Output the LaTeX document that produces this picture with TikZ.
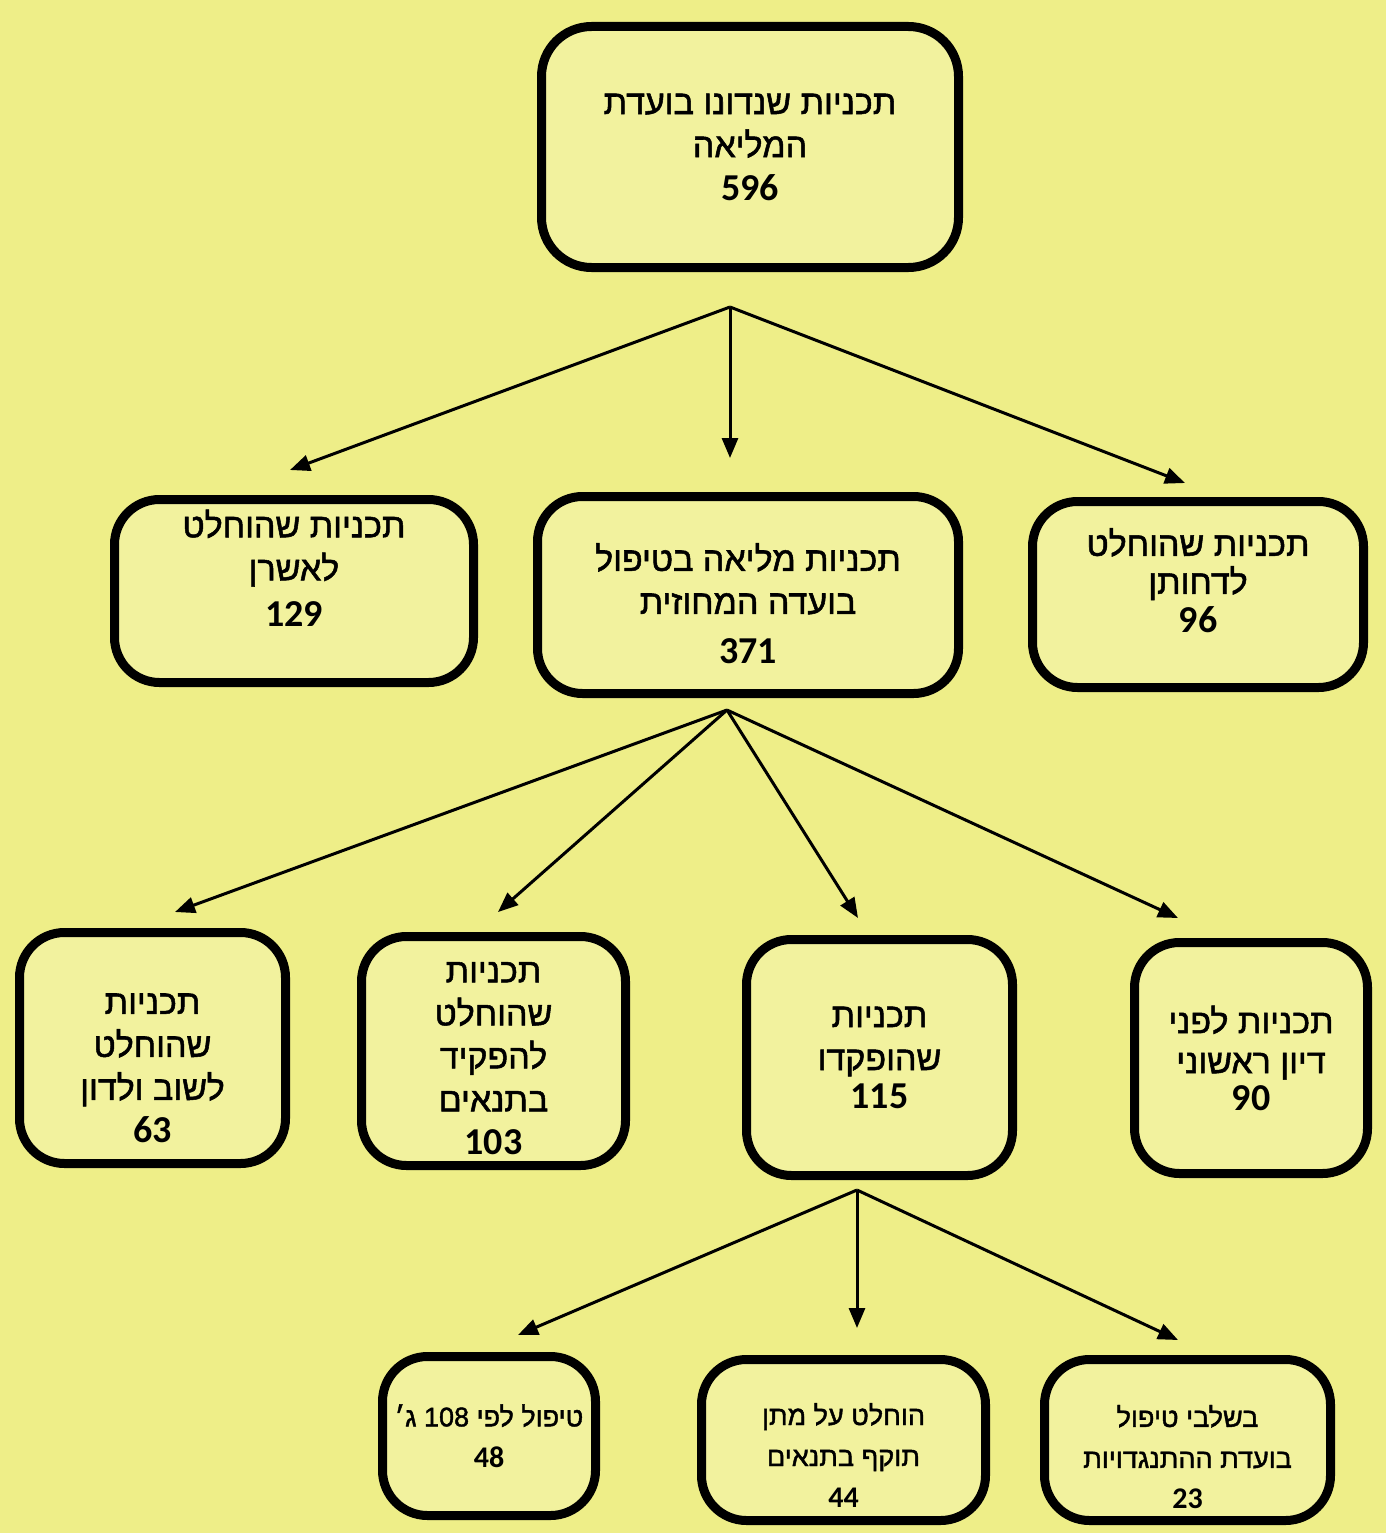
\documentclass[tikz,border=0pt]{standalone}
\usepackage{fontspec}
\setmainfont{Liberation Sans}
\newfontfamily\hebfont[Script=Hebrew,FakeBold=1.5]{Liberation Sans}
\newfontfamily\numfont{Carlito}
\TeXXeTstate=1
\usetikzlibrary{arrows.meta}
\definecolor{bgyel}{RGB}{238,238,136}
\definecolor{boxyel}{RGB}{242,242,158}
\newcommand{\heb}[1]{\beginR #1\endR}
\newcommand{\numtxt}[1]{{\numfont\bfseries\fontsize{38}{43}\selectfont #1}}
\newcommand{\numsm}[1]{{\numfont\bfseries\fontsize{30}{41}\selectfont #1}}
% push text down (height strut) or up (depth strut)
\newcommand{\pushdn}[1]{\rule{0pt}{#1pt}}
\newcommand{\pushup}[1]{\rule[-#1pt]{0pt}{#1pt}}
\tikzset{
  box/.style={draw=black, line width=9pt, fill=boxyel, rounded corners=45pt,
    align=center, inner sep=0pt, font=\hebfont\fontsize{34}{43}\selectfont},
  smallbox/.style={box, font=\hebfont\fontsize{27}{41}\selectfont},
  arr/.style={line width=3pt, -{Triangle[length=20pt,width=16pt]}}
}
\begin{document}
\begin{tikzpicture}[x=1pt,y=-1pt]
\fill[bgyel] (0,0) rectangle (1386,1533);
\useasboundingbox (0,0) rectangle (1386,1533);

% top
\node[box, minimum width=417pt, minimum height=241pt, rounded corners=50pt] (n596) at (750,147)
  {\heb{תכניות שנדונו בועדת}\\\heb{המליאה}\\\numtxt{596}};

% row 2
\node[box, minimum width=359pt, minimum height=183pt] (n129) at (294,591)
  {\heb{תכניות שהוחלט}\\\heb{לאשרן}\\[3pt]\numtxt{129}\pushup{46}};
\node[box, minimum width=421pt, minimum height=197pt] (n371) at (748,595)
  {\pushdn{45}\heb{תכניות מליאה בטיפול}\\\heb{בועדה המחוזית}\\[7pt]\numtxt{371}};
\node[box, minimum width=331pt, minimum height=186pt] (n96) at (1198,594.5)
  {\heb{תכניות שהוחלט}\\[-5pt]\heb{לדחותן}\\[-4pt]\numtxt{96}\pushup{28}};

% row 3
\node[box, minimum width=266pt, minimum height=231pt] (n63) at (152.5,1048)
  {\pushdn{61}\heb{תכניות}\\\heb{שהוחלט}\\\heb{לשוב ולדון}\\\numtxt{63}};
\node[box, minimum width=264pt, minimum height=229pt] (n103) at (493.5,1051)
  {\pushdn{35}\heb{תכניות}\\\heb{שהוחלט}\\\heb{להפקיד}\\\heb{בתנאים}\\\numtxt{103}};
\node[box, minimum width=266pt, minimum height=236pt] (n115) at (879.5,1057.5)
  {\heb{תכניות}\\\heb{שהופקדו}\\[-5pt]\numtxt{115}};
\node[box, minimum width=233pt, minimum height=231pt] (n90) at (1251,1058)
  {\heb{תכניות לפני}\\[-3pt]\heb{דיון ראשוני}\\[-6pt]\numtxt{90}};

% row 4
\node[smallbox, minimum width=213pt, minimum height=159pt] (n48) at (489,1436)
  {\heb{טיפול לפי \beginL108\endL{} ג׳}\\\numsm{48}};
\node[smallbox, minimum width=284pt, minimum height=161pt] (n44) at (843.5,1440)
  {\pushdn{52}\heb{הוחלט על מתן}\\\heb{תוקף בתנאים}\\\numsm{44}};
\node[smallbox, minimum width=286pt, minimum height=161pt] (n23) at (1187.5,1440)
  {\pushdn{56}\heb{בשלבי טיפול}\\\heb{בועדת ההתנגדויות}\\\numsm{23}};

% fork points and arrow tips
\coordinate (f1) at (730,307);
\coordinate (t129) at (290,470);
\coordinate (t371) at (730,458);
\coordinate (t96) at (1185,483);
\coordinate (f2) at (727,710);
\coordinate (t63) at (175,912);
\coordinate (t103) at (498,912);
\coordinate (t115) at (858,918);
\coordinate (t90) at (1178,918);
\coordinate (f3) at (857,1190);
\coordinate (t48) at (518,1335);
\coordinate (t44) at (857,1328);
\coordinate (t23) at (1178,1340);

\draw[arr] (f1) -- (t129);
\draw[arr] (f1) -- (t371);
\draw[arr] (f1) -- (t96);
\draw[arr] (f2) -- (t63);
\draw[arr] (f2) -- (t103);
\draw[arr] (f2) -- (t115);
\draw[arr] (f2) -- (t90);
\draw[arr] (f3) -- (t48);
\draw[arr] (f3) -- (t44);
\draw[arr] (f3) -- (t23);
\end{tikzpicture}
\end{document}
